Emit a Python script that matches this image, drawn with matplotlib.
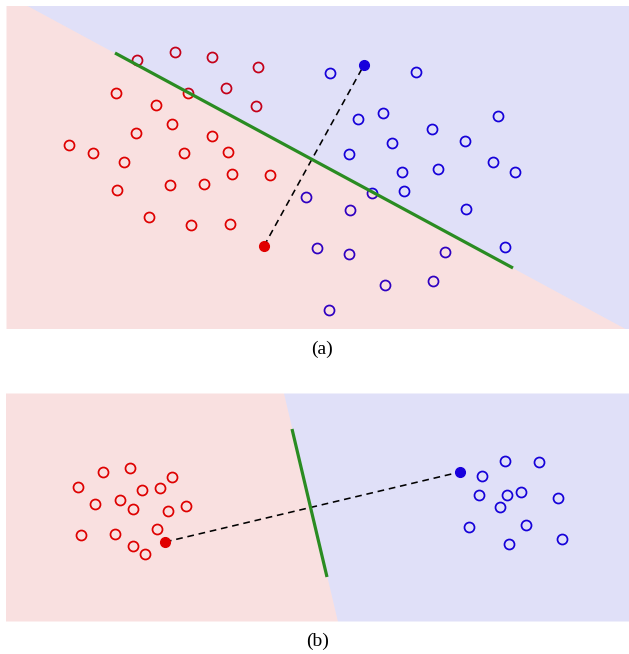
import numpy as np
import matplotlib
matplotlib.use("Agg")
import matplotlib.pyplot as plt

# ---------------- data (pixel-like units) ----------------
# Panel (a)
a_red_x = [137, 175, 212, 258, 116, 188, 226, 156, 256, 172, 136, 212, 69, 93, 184, 228,
           124, 232, 270, 117, 170, 204, 149, 191, 230]
a_red_y = [60, 52, 57, 67, 93, 93, 88, 105, 106, 124, 133, 136, 145, 153, 153, 152,
           162, 174, 175, 190, 185, 184, 217, 225, 224]
a_blue_x = [330, 416, 358, 383, 498, 432, 465, 392, 349, 493, 515, 402, 438, 372, 404,
            306, 350, 466, 505, 317, 349, 445, 385, 433, 329]
a_blue_y = [73, 72, 119, 113, 116, 129, 141, 143, 154, 162, 172, 172, 169, 193, 191,
            197, 210, 209, 247, 248, 254, 252, 285, 281, 310]
a_red_center = (264, 246)
a_blue_center = (364, 65)
a_sep = [(115, 53), (513, 268)]   # separating segment endpoints

# Panel (b)
b_red_x = [103, 130, 172, 78, 142, 160, 95, 120, 133, 168, 186, 81, 115, 157, 133, 145]
b_red_y = [472, 468, 477, 487, 490, 488, 504, 500, 509, 511, 506, 535, 534, 529, 546, 554]
b_blue_x = [505, 539, 482, 479, 507, 521, 558, 500, 469, 526, 562, 509]
b_blue_y = [461, 462, 476, 495, 495, 492, 498, 507, 527, 525, 539, 544]
b_red_center = (165, 542)
b_blue_center = (460, 472)
b_sep = [(292, 429), (327, 577)]

captions = ["(a)", "(b)"]

# ---------------- style ----------------
RED = "#e00000"
BLUE = "#1800dc"
GREEN = "#2a8c22"
ALPHA = 0.12
PINK_OVER = (0.833, 0.0, 0.0)    # overlay colour giving light pink at ALPHA
LAV_OVER = (0.0, 0.0, 0.79)      # overlay colour giving lavender at ALPHA

W, H = 629, 654
fig = plt.figure(figsize=(W / 100, H / 100), dpi=100)
fig.patch.set_facecolor("white")


def make_axes(x0, y0, x1, y1):
    ax = fig.add_axes([x0 / W, 1 - y1 / H, (x1 - x0) / W, (y1 - y0) / H])
    ax.set_xlim(x0, x1)
    ax.set_ylim(y1, y0)
    ax.axis("off")
    return ax


def draw_panel(ax, rx, ry, bx, by, rc, bc, sep, horizontal):
    (x0, x1), (y1, y0) = ax.get_xlim(), ax.get_ylim()
    (sx0, sy0), (sx1, sy1) = sep
    if horizontal:
        xs = np.linspace(x0, x1, 200)
        ys = sy0 + (xs - sx0) * (sy1 - sy0) / (sx1 - sx0)
        ax.fill_between(xs, ys, y1 + 50, color=PINK_OVER, alpha=ALPHA, lw=0, zorder=5)
        ax.fill_between(xs, y0 - 50, ys, color=LAV_OVER, alpha=ALPHA, lw=0, zorder=5)
    else:
        ys = np.linspace(y0, y1, 200)
        xs = sx0 + (ys - sy0) * (sx1 - sx0) / (sy1 - sy0)
        ax.fill_betweenx(ys, x0 - 50, xs, color=PINK_OVER, alpha=ALPHA, lw=0, zorder=5)
        ax.fill_betweenx(ys, xs, x1 + 50, color=LAV_OVER, alpha=ALPHA, lw=0, zorder=5)
    ax.plot(rx, ry, "o", ms=7.2, mfc="none", mec=RED, mew=1.25, zorder=3)
    ax.plot(bx, by, "o", ms=7.2, mfc="none", mec=BLUE, mew=1.25, zorder=3)
    ax.plot([rc[0], bc[0]], [rc[1], bc[1]], color="black", lw=1.15,
            dashes=(4.2, 3.0), zorder=6)
    ax.plot(*rc, "o", ms=7, color=RED, mec=RED, zorder=7)
    ax.plot(*bc, "o", ms=7, color=BLUE, mec=BLUE, zorder=7)
    ax.plot([sx0, sx1], [sy0, sy1], color=GREEN, lw=2.3,
            solid_capstyle="butt", zorder=6)


ax_a = make_axes(6, 6, 629, 328)
draw_panel(ax_a, a_red_x, a_red_y, a_blue_x, a_blue_y,
           a_red_center, a_blue_center, a_sep, horizontal=True)

ax_b = make_axes(6, 393, 629, 621)
draw_panel(ax_b, b_red_x, b_red_y, b_blue_x, b_blue_y,
           b_red_center, b_blue_center, b_sep, horizontal=False)

fig.text(322 / W, 1 - 349 / H, captions[0], ha="center", va="center",
         fontsize=14, family=["Liberation Serif", "DejaVu Serif"])
fig.text(318 / W, 1 - 641 / H, captions[1], ha="center", va="center",
         fontsize=14, family=["Liberation Serif", "DejaVu Serif"])

fig.savefig("out.png", dpi=100, facecolor="white")
